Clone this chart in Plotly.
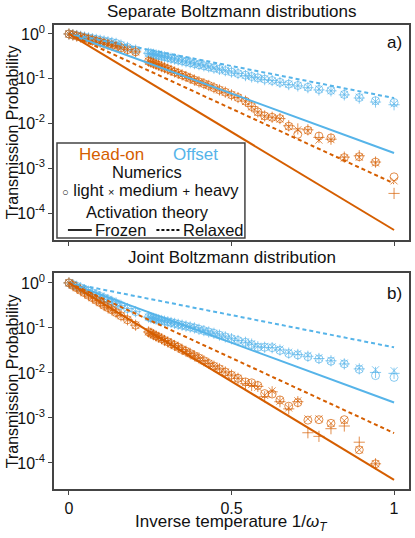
import numpy as np
import plotly.graph_objects as go

# colours (Okabe-Ito)
ORANGE = "#D55E00"
BLUE = "#56B4E9"
FONT = "Liberation Sans, Arial, Helvetica, sans-serif"

# inverse temperature of the numerical runs
x_dense = [0.0, 0.012, 0.024, 0.036, 0.048, 0.06, 0.072, 0.084, 0.096, 0.108, 0.12, 0.132, 0.145, 0.16, 0.18, 0.205,
           0.245, 0.252, 0.26, 0.268, 0.276, 0.285, 0.294, 0.304, 0.314, 0.325, 0.336, 0.348, 0.36, 0.373, 0.386,
           0.40, 0.415, 0.43, 0.446, 0.463, 0.481, 0.5, 0.52]
x_sparse = [0.543, 0.562, 0.581, 0.602, 0.625, 0.649, 0.676, 0.704, 0.735, 0.769, 0.806, 0.847, 0.893, 0.943, 1.0]

# log10 transmission probability, panel a) separate distributions
a_off_dense = [0.0, -0.017, -0.035, -0.052, -0.07, -0.087, -0.105, -0.122, -0.14, -0.157, -0.175, -0.19, -0.21, -0.25, -0.30, -0.36,
               -0.43, -0.442, -0.455, -0.468, -0.481, -0.496, -0.511, -0.527, -0.544, -0.562, -0.58, -0.60, -0.62, -0.641,
               -0.663, -0.686, -0.71, -0.735, -0.762, -0.79, -0.82, -0.85, -0.884]
a_off_light = [-0.92, -0.95, -0.98, -1.01, -1.04, -1.08, -1.12, -1.15, -1.19, -1.24, -1.26, -1.35, -1.42, -1.49, -1.53]
a_off_medium = [-0.92, -0.95, -0.99, -1.0, -1.05, -1.09, -1.12, -1.15, -1.19, -1.23, -1.27, -1.35, -1.41, -1.51, -1.56]
a_off_heavy = [-0.93, -0.96, -0.98, -1.02, -1.04, -1.08, -1.13, -1.16, -1.2, -1.25, -1.27, -1.36, -1.43, -1.52, -1.58]

a_head_dense = [0.0, -0.023, -0.047, -0.07, -0.094, -0.117, -0.14, -0.164, -0.187, -0.21, -0.234, -0.257, -0.283, -0.31, -0.35, -0.40,
                -0.61, -0.63, -0.655, -0.68, -0.70, -0.73, -0.755, -0.785, -0.815, -0.85, -0.88, -0.915, -0.95, -0.99,
                -1.03, -1.07, -1.11, -1.15, -1.2, -1.25, -1.3, -1.36, -1.42]
a_head_light = [-1.50, -1.62, -1.74, -1.83, -1.86, -1.89, -2.06, -2.24, -2.15, -2.28, -2.32, -2.76, -2.74, -2.86, -3.19]
a_head_medium = [-1.51, -1.63, -1.75, -1.84, -1.87, -1.9, -2.07, -2.14, -2.16, -2.37, -2.36, -2.77, -2.75, -2.88, -3.28]
a_head_heavy = [-1.50, -1.62, -1.74, -1.83, -1.86, -1.89, -2.05, -2.12, -2.14, -2.31, -2.35, -2.75, -2.72, -2.86, -3.56]

# log10 transmission probability, panel b) joint distribution
b_off_dense = [0.0, -0.037, -0.074, -0.11, -0.15, -0.185, -0.22, -0.26, -0.30, -0.335, -0.37, -0.41, -0.45, -0.50, -0.57, -0.64,
               -0.76, -0.775, -0.79, -0.805, -0.82, -0.835, -0.85, -0.865, -0.88, -0.90, -0.92, -0.94, -0.96, -0.98,
               -1.0, -1.03, -1.06, -1.09, -1.12, -1.16, -1.2, -1.24, -1.28]
b_off_light = [-1.32, -1.37, -1.43, -1.43, -1.44, -1.5, -1.57, -1.6, -1.64, -1.69, -1.74, -1.8, -1.92, -2.06, -2.10]
b_off_medium = [-1.31, -1.35, -1.41, -1.41, -1.42, -1.47, -1.54, -1.57, -1.61, -1.66, -1.72, -1.78, -1.89, -1.93, -1.95]
b_off_heavy = [-1.32, -1.36, -1.42, -1.43, -1.44, -1.49, -1.56, -1.59, -1.63, -1.68, -1.73, -1.8, -1.91, -1.99, -2.01]

b_head_dense = [0.0, -0.055, -0.11, -0.165, -0.22, -0.275, -0.33, -0.385, -0.44, -0.50, -0.55, -0.60, -0.66, -0.73, -0.82, -0.94,
                -1.09, -1.12, -1.15, -1.18, -1.21, -1.24, -1.28, -1.31, -1.35, -1.39, -1.43, -1.48, -1.52, -1.57,
                -1.62, -1.67, -1.73, -1.79, -1.85, -1.91, -1.98, -2.05, -2.12]
b_head_light = [-2.2, -2.22, -2.28, -2.46, -2.47, -2.6, -2.74, -2.66, -3.05, -3.04, -3.12, -3.04, -3.71, -4.02, None]
b_head_medium = [-2.22, -2.26, -2.32, -2.5, -2.40, -2.63, -2.78, -2.62, -3.02, -3.02, -3.12, -3.06, -3.71, -4.02, None]
b_head_heavy = [-2.24, -2.28, -2.30, -2.53, -2.42, -2.64, -2.8, -2.64, -3.33, -3.41, -3.24, -3.18, -3.54, -4.02, None]

# activation theory (straight lines on log axis), same in both panels
theory_x = [0.0, 1.0]
head_frozen = [1.0, 4.2e-5]
head_relaxed = [1.0, 4.6e-4]
off_frozen = [1.0, 2.2e-3]
off_relaxed = [1.0, 3.7e-2]

# plotting area in pixels: left 54, right 411, top 25, bottom 489
L, R, T, B = 54, 411, 25, 489
W, H = 415, 538


def px(x, y):
    return (x - L) / (R - L), (B - y) / (B - T)


fig = go.Figure()

markers = [("circle-open", 8), ("x-thin-open", 7), ("cross-thin-open", 8)]


def add_numerics(dense, sparse_sets, color, xa, ya):
    for (sym, size), sp in zip(markers, sparse_sets):
        logs = np.array(dense + [np.nan if v is None else v for v in sp], dtype=float)
        fig.add_trace(go.Scatter(
            x=x_dense + x_sparse, y=10 ** logs, mode="markers", xaxis=xa, yaxis=ya,
            marker=dict(symbol=sym, size=size, color=color, opacity=0.7,
                        line=dict(color=color, width=1)),
            showlegend=False, hoverinfo="skip"))


def add_theory(xa, ya):
    for yv, color, dash in [(off_relaxed, BLUE, "4px,3px"), (off_frozen, BLUE, "solid"),
                            (head_relaxed, ORANGE, "4px,3px"), (head_frozen, ORANGE, "solid")]:
        fig.add_trace(go.Scatter(x=theory_x, y=yv, mode="lines", xaxis=xa, yaxis=ya,
                                 line=dict(color=color, width=2, dash=dash),
                                 showlegend=False, hoverinfo="skip"))


add_numerics(a_off_dense, [a_off_light, a_off_medium, a_off_heavy], BLUE, "x", "y")
add_numerics(a_head_dense, [a_head_light, a_head_medium, a_head_heavy], ORANGE, "x", "y")
add_theory("x", "y")
add_numerics(b_off_dense, [b_off_light, b_off_medium, b_off_heavy], BLUE, "x2", "y2")
add_numerics(b_head_dense, [b_head_light, b_head_medium, b_head_heavy], ORANGE, "x2", "y2")
add_theory("x2", "y2")

ytickvals = [1, 0.1, 0.01, 0.001, 0.0001]
yticktext = ["10<sup>0</sup>", "10<sup>-1</sup>", "10<sup>-2</sup>", "10<sup>-3</sup>", "10<sup>-4</sup>"]

axis_common = dict(showline=True, mirror=True, linecolor="#444", linewidth=1.5, showgrid=False,
                   zeroline=False, ticks="outside", ticklen=4, tickcolor="#444",
                   tickfont=dict(family=FONT, size=16, color="#111"))

top_dom = [(B - 240) / (B - T), 1.0]
bot_dom = [0.0, (B - 273) / (B - T)]

fig.update_layout(
    width=W, height=H, plot_bgcolor="white", paper_bgcolor="white",
    margin=dict(l=L, r=W - R, t=T, b=H - B),
    font=dict(family=FONT, size=16, color="#111"),
    xaxis=dict(domain=[0, 1], range=[-0.046, 1.046], tickvals=[0, 0.5, 1], showticklabels=False,
               anchor="y", **axis_common),
    yaxis=dict(domain=top_dom, type="log", range=[-4.6, 0.2], tickvals=ytickvals, ticktext=yticktext,
               anchor="x", **axis_common),
    xaxis2=dict(domain=[0, 1], range=[-0.046, 1.046], tickvals=[0, 0.5, 1], ticktext=["0", "0.5", "1"],
                anchor="y2", **axis_common),
    yaxis2=dict(domain=bot_dom, type="log", range=[-4.58, 0.22], tickvals=ytickvals, ticktext=yticktext,
                anchor="x2", **axis_common),
)

ann = []


def text(x, y, s, size=16, color="#111", xanchor="center", angle=0):
    ax, ay = px(x, y)
    ann.append(dict(x=ax, y=ay, xref="paper", yref="paper", text=s, showarrow=False,
                    xanchor=xanchor, yanchor="middle", textangle=angle,
                    font=dict(family=FONT, size=size, color=color)))


text(233, 11, "Separate Boltzmann distributions", size=17)
text(233, 257, "Joint Boltzmann distribution", size=17)
text(396, 42, "a)", size=17)
text(396, 293, "b)", size=17)
text(12, 132, "Transmission Probability", angle=-90)
text(12, 381, "Transmission Probability", angle=-90)
text(232, 523, "Inverse temperature 1/<i>ω</i><sub><i>T</i></sub>", size=17)

# legend box
text(112, 154, "Head-on", size=17, color=ORANGE)
text(196, 154, "Offset", size=17, color=BLUE)
text(148, 172, "Numerics", size=16.5)
text(151, 190, "<span style='font-size:11px'>○</span> light <span style='font-size:11px'>×</span> medium "
     "<span style='font-size:13px'>+</span> heavy", size=16.5)
text(148, 212, "Activation theory", size=16.5)
text(93, 230, "Frozen", size=16.5, xanchor="left")
text(182, 230, "Relaxed", size=16.5, xanchor="left")

shapes = []
x0, y0 = px(57, 238)
x1, y1 = px(246, 143)
shapes.append(dict(type="rect", xref="paper", yref="paper", x0=x0, y0=y0, x1=x1, y1=y1,
                   line=dict(color="#444", width=1.5), fillcolor="rgba(255,255,255,0)", layer="above"))
for a, b, dash in [(68, 92, "solid"), (157, 181, "3px,2px")]:
    sx0, sy = px(a, 230)
    sx1, _ = px(b, 230)
    shapes.append(dict(type="line", xref="paper", yref="paper", x0=sx0, y0=sy, x1=sx1, y1=sy,
                       line=dict(color="#111", width=1.8, dash=dash)))

fig.update_layout(annotations=ann, shapes=shapes)

# drop the default 8px body margin so the figure sits at the page corner
fig.write_html("out.html", config={"displayModeBar": False},
               post_script="document.body.style.margin='0';")
